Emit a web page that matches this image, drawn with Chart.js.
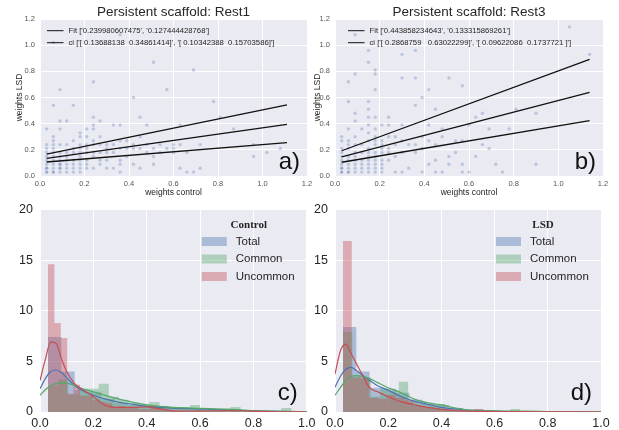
<!DOCTYPE html>
<html>
<head>
<meta charset="utf-8">
<script src="https://cdn.jsdelivr.net/npm/chart.js@4.4.0/dist/chart.umd.min.js"></script>
<style>
  body { margin: 0; background: #fff; }
  #wrap { position: relative; width: 619px; height: 430px; overflow: hidden; }
  #wrap canvas { position: absolute; }
</style>
</head>
<body>
<div id="wrap">
  <canvas id="rest1Chart" width="320" height="200" style="left:0;top:0"></canvas>
  <canvas id="rest3Chart" width="309" height="200" style="left:310px;top:0"></canvas>
  <canvas id="controlChart" width="320" height="235" style="left:0;top:195px"></canvas>
  <canvas id="lsdChart" width="309" height="235" style="left:310px;top:195px"></canvas>
</div>
<script>
// ---- scatter data (weights control, weights LSD) ----
const rest1Points = [
  [0.03,0.03],[0.03,0.03],[0.03,0.06],[0.03,0.06],[0.03,0.09],[0.03,0.12],[0.03,0.15],[0.03,0.18],[0.03,0.21],[0.03,0.24],[0.03,0.36],
  [0.06,0.03],[0.06,0.03],[0.06,0.06],[0.06,0.09],[0.06,0.12],[0.06,0.15],[0.06,0.18],[0.06,0.21],[0.06,0.24],[0.06,0.27],[0.06,0.30],[0.06,0.54],[0.06,1.02],
  [0.09,0.03],[0.09,0.06],[0.09,0.06],[0.09,0.09],[0.09,0.09],[0.09,0.12],[0.09,0.15],[0.09,0.18],[0.09,0.24],[0.09,0.36],[0.09,0.42],[0.09,0.66],
  [0.12,0.03],[0.12,0.06],[0.12,0.09],[0.12,0.12],[0.12,0.15],[0.12,0.18],[0.12,0.24],[0.12,0.42],
  [0.15,0.03],[0.15,0.06],[0.15,0.09],[0.15,0.12],[0.15,0.18],[0.15,0.21],[0.15,0.27],[0.15,0.54],
  [0.18,0.03],[0.18,0.06],[0.18,0.09],[0.18,0.12],[0.18,0.15],[0.18,0.18],[0.18,0.21],[0.18,0.24],[0.18,0.30],[0.18,0.33],
  [0.21,0.06],[0.21,0.09],[0.21,0.12],[0.21,0.18],[0.21,0.21],[0.21,0.24],[0.21,0.30],[0.21,0.36],
  [0.24,0.06],[0.24,0.15],[0.24,0.18],[0.24,0.24],[0.24,0.27],[0.24,0.36],[0.24,0.39],[0.24,0.45],[0.24,0.72],
  [0.27,0.09],[0.27,0.12],[0.27,0.18],[0.27,0.24],[0.27,0.30],[0.27,0.42],
  [0.30,0.06],[0.30,0.12],[0.30,0.18],[0.30,0.21],[0.30,0.24],
  [0.33,0.06],[0.33,0.18],[0.33,0.24],[0.33,0.39],
  [0.36,0.03],[0.36,0.09],[0.36,0.12],[0.36,0.21],[0.36,0.27],[0.36,0.39],[0.36,1.08],
  [0.39,0.15],[0.39,0.21],[0.39,0.27],
  [0.42,0.09],[0.42,0.21],[0.42,0.24],[0.42,0.60],
  [0.45,0.06],[0.45,0.21],[0.45,0.30],[0.45,0.45],
  [0.48,0.18],[0.48,0.24],[0.48,0.39],
  [0.51,0.09],[0.51,0.15],[0.51,0.21],[0.51,0.87],
  [0.54,0.18],[0.54,0.24],[0.57,0.21],[0.57,0.66],
  [0.60,0.18],[0.60,0.21],[0.60,0.24],[0.63,0.06],[0.63,0.24],[0.63,0.39],
  [0.66,0.03],[0.66,0.18],[0.69,0.03],[0.69,0.81],[0.72,0.06],[0.72,0.24],
  [0.78,0.57],[0.81,0.45],[0.87,0.36],[0.96,0.15],[0.96,0.24],[1.02,0.18],[1.08,0.21]
];
const rest3Points = [
  [0.03,0.03],[0.03,0.03],[0.03,0.06],[0.03,0.06],[0.03,0.09],[0.03,0.12],[0.03,0.15],[0.03,0.18],[0.03,0.21],[0.03,0.27],[0.03,0.30],
  [0.06,0.03],[0.06,0.03],[0.06,0.06],[0.06,0.09],[0.06,0.12],[0.06,0.15],[0.06,0.21],[0.06,0.24],[0.06,0.27],[0.06,0.36],[0.06,0.57],[0.06,0.72],
  [0.09,0.03],[0.09,0.06],[0.09,0.09],[0.09,0.12],[0.09,0.15],[0.09,0.18],[0.09,0.24],[0.09,0.30],[0.09,0.42],[0.09,0.48],[0.09,0.78],[0.09,1.08],
  [0.12,0.03],[0.12,0.06],[0.12,0.09],[0.12,0.12],[0.12,0.18],[0.12,0.24],[0.12,0.36],
  [0.15,0.03],[0.15,0.06],[0.15,0.09],[0.15,0.12],[0.15,0.15],[0.15,0.18],[0.15,0.21],[0.15,0.27],[0.15,0.33],[0.15,0.39],[0.15,0.45],[0.15,0.51],[0.15,0.57],[0.15,0.87],[0.15,0.96],
  [0.18,0.03],[0.18,0.06],[0.18,0.09],[0.18,0.12],[0.18,0.15],[0.18,0.18],[0.18,0.24],[0.18,0.27],[0.18,0.30],[0.18,0.36],[0.18,0.45],[0.18,0.66],[0.18,0.78],[0.18,0.81],
  [0.21,0.03],[0.21,0.06],[0.21,0.09],[0.21,0.12],[0.21,0.18],[0.21,0.21],[0.21,0.24],[0.21,0.27],[0.21,0.39],
  [0.24,0.12],[0.24,0.18],[0.24,0.21],[0.24,0.30],[0.24,0.39],[0.24,0.45],
  [0.27,0.03],[0.27,0.15],[0.27,0.24],[0.27,0.30],
  [0.30,0.03],[0.30,0.18],[0.30,0.27],[0.30,0.39],[0.30,0.75],[0.30,0.93],
  [0.33,0.06],[0.33,0.24],
  [0.36,0.18],[0.36,0.24],[0.36,0.54],[0.36,0.75],[0.36,0.96],
  [0.39,0.03],[0.39,0.21],[0.39,0.30],[0.39,0.60],
  [0.42,0.09],[0.42,0.27],[0.42,0.39],[0.42,0.66],
  [0.45,0.03],[0.45,0.12],[0.45,0.24],[0.45,0.51],
  [0.48,0.03],[0.48,0.30],[0.48,0.36],
  [0.51,0.09],[0.51,0.15],[0.51,0.75],[0.54,0.18],[0.54,0.27],
  [0.57,0.03],[0.57,0.09],[0.57,0.27],[0.57,0.69],[0.60,0.03],[0.60,0.39],
  [0.63,0.15],[0.63,0.45],[0.66,0.24],[0.66,0.48],[0.69,0.21],[0.69,0.36],
  [0.72,0.09],[0.75,0.03],[0.78,0.36],[0.81,0.51],[0.90,0.09],[0.90,0.48],
  [1.05,1.14],[1.14,0.93]
];

// fitted line and confidence band ends (x, then y at each end)
const rest1LineX = [0.03, 1.11];
const rest1Fit = [0.134, 0.394];
const rest1CiLow = [0.107, 0.255];
const rest1CiHigh = [0.167, 0.544];
const rest3LineX = [0.03, 1.14];
const rest3Fit = [0.147, 0.639];
const rest3CiLow = [0.105, 0.423];
const rest3CiHigh = [0.193, 0.892];

const rest1Legend = ["Fit ['0.239980607475', '0.127444428768']",
                     "ci ['[ 0.13688138  0.34861414]', '[ 0.10342388  0.15703586]']"];
const rest3Legend = ["Fit ['0.443858234643', '0.133315869261']",
                     "ci ['[ 0.2868759   0.63022299]', '[ 0.09622086  0.1737721 ]']"];

// ---- histogram data: [first bin edge, bin width] and densities ----
const seriesNames = ['Total', 'Common', 'Uncommon'];
const controlTotalBins = [0.03, 0.05];
const controlTotal = [7.4, 4.0, 2.2, 2.0, 1.3, 0.9, 0.7, 0.6, 0.6, 0.5, 0.4, 0.3, 0.3, 0.2, 0.2, 0.1, 0.1, 0.1, 0.1];
const controlCommonBins = [0.03, 0.038];
const controlCommon = [2.6, 3.2, 1.7, 2.3, 2.3, 2.8, 1.5, 1.2, 0.9, 0.8, 1.0, 0.6, 0.5, 0.5, 0.7, 0.4, 0.3, 0.3, 0.5, 0.2, 0.1, 0.1, 0.1, 0.4, 0.1];
const controlUncommonBins = [0.03, 0.024];
const controlUncommon = [14.6, 8.8, 7.3, 1.8, 2.7, 1.6, 1.6, 1.2, 1.0, 0.9, 0.5, 0.6, 0.5, 0.4, 0.3, 0.3, 0.6, 0.4, 0.2, 0.1, 0.1, 0.1, 0.1, 0.2, 0.1, 0.1, 0.1, 0.2, 0.2, 0.1];

const lsdTotalBins = [0.03, 0.05];
const lsdTotal = [8.4, 4.0, 2.4, 2.3, 1.9, 1.2, 0.8, 0.7, 0.4, 0.2, 0.15, 0.1, 0.1, 0.05, 0.05, 0.05, 0.05, 0.05];
const lsdCommonBins = [0.03, 0.035];
const lsdCommon = [7.9, 3.5, 3.4, 1.5, 2.3, 2.1, 3.0, 1.0, 0.8, 0.8, 0.8, 0.3, 0.2, 0.2, 0.3, 0.2, 0.2, 0.1, 0.3, 0.1, 0.1, 0.1, 0.05];
const lsdUncommonBins = [0.03, 0.033];
const lsdUncommon = [16.9, 3.4, 3.3, 1.4, 1.3, 1.7, 1.4, 1.2, 0.6, 0.5, 0.4, 0.3, 0.2, 0.2, 0.1, 0.3, 0.1, 0.1, 0.05, 0.05];

// density curves
const kdeX = [0, 0.02, 0.04, 0.06, 0.08, 0.1, 0.13, 0.16, 0.2, 0.25, 0.3, 0.35, 0.4, 0.45, 0.5, 0.6, 0.7, 0.8, 0.9, 1.0];
const controlTotalKde = [2.3, 3.3, 4.0, 4.15, 3.9, 3.4, 2.6, 2.1, 1.65, 1.25, 0.95, 0.75, 0.55, 0.45, 0.38, 0.3, 0.22, 0.12, 0.06, 0.03];
const controlCommonKde = [1.65, 2.2, 2.6, 2.8, 2.85, 2.85, 2.6, 2.3, 2.0, 1.6, 1.25, 0.95, 0.7, 0.55, 0.45, 0.36, 0.28, 0.13, 0.07, 0.03];
const controlUncommonKde = [3.1, 5.2, 6.9, 6.8, 5.3, 4.0, 2.8, 2.2, 1.5, 0.6, 0.45, 0.45, 0.5, 0.3, 0.12, 0.1, 0.15, 0.08, 0.02, 0.0];
const lsdTotalKde = [2.45, 3.5, 4.2, 4.4, 4.1, 3.7, 3.1, 2.6, 2.15, 1.5, 1.05, 0.75, 0.45, 0.3, 0.2, 0.1, 0.05, 0.03, 0.02, 0.01];
const lsdCommonKde = [1.65, 2.4, 3.1, 3.5, 3.6, 3.55, 3.3, 2.9, 2.4, 1.9, 1.25, 0.9, 0.7, 0.4, 0.2, 0.1, 0.08, 0.05, 0.02, 0.01];
const lsdUncommonKde = [3.75, 6.0, 6.7, 5.8, 4.8, 3.8, 2.4, 2.0, 1.5, 1.0, 0.7, 0.45, 0.26, 0.15, 0.08, 0.05, 0.03, 0.02, 0.01, 0.0];

const blue = '76, 114, 176', green = '85, 168, 104', red = '196, 78, 82';
const sans = "'Liberation Sans', Arial, sans-serif";

// seaborn-ish grey plot background
const plotBackground = {
  id: 'plotBackground',
  beforeDraw(chart) {
    const { ctx, chartArea: a } = chart;
    ctx.save();
    ctx.fillStyle = '#EAEAF2';
    ctx.fillRect(a.left, a.top, a.right - a.left, a.bottom - a.top);
    ctx.restore();
  }
};

// panel letter + legend drawn inside the plot area
const panelDecor = {
  id: 'panelDecor',
  afterDraw(chart, args, opts) {
    const { ctx, chartArea: a } = chart;
    ctx.save();
    ctx.fillStyle = '#111';
    ctx.font = opts.tagSize + 'px ' + sans;
    ctx.textAlign = 'right';
    ctx.textBaseline = 'alphabetic';
    ctx.fillText(opts.tag, a.right - opts.tagRight, a.bottom - opts.tagBottom);

    if (opts.lines) {
      ctx.font = '7.7px ' + sans;
      ctx.textAlign = 'left';
      ctx.textBaseline = 'middle';
      opts.lines.forEach((txt, i) => {
        const y = a.top + 11.7 + i * 12;
        ctx.strokeStyle = '#111';
        ctx.lineWidth = 1;
        ctx.beginPath();
        ctx.moveTo(a.left + opts.legendLeft, y);
        ctx.lineTo(a.left + opts.legendLeft + 16.5, y);
        ctx.stroke();
        ctx.fillStyle = '#262626';
        ctx.fillText(txt, a.left + opts.legendLeft + 21.5, y);
      });
    }
    if (opts.patches) {
      ctx.textBaseline = 'middle';
      ctx.textAlign = 'center';
      ctx.fillStyle = '#262626';
      ctx.font = 'bold 11px "Liberation Serif", serif';
      ctx.fillText(opts.heading, a.right - 58, a.top + 16);
      ctx.font = '11.5px ' + sans;
      ctx.textAlign = 'left';
      opts.patches.forEach((p, i) => {
        const y = a.top + 32 + i * 17.5;
        ctx.fillStyle = 'rgba(' + p.color + ', 0.4)';
        ctx.fillRect(a.right - 105, y - 4.5, 25, 9);
        ctx.fillStyle = '#262626';
        ctx.fillText(p.label, a.right - 71, y);
      });
    }
    ctx.restore();
  }
};

function axisBase(min, max, step, fontSize, color, pad, fmt) {
  return {
    type: 'linear', min: min, max: max,
    grid: { color: '#ffffff', lineWidth: 1, drawTicks: false },
    border: { display: false },
    ticks: { stepSize: step, padding: pad, color: color, font: { family: sans, size: fontSize }, callback: fmt }
  };
}

const oneDecimal = v => v.toFixed(1);

function scatterChart(id, title, points, lineX, fit, lo, hi, legend, opts) {
  const line = ys => ({
    data: lineX.map((x, i) => ({ x: x, y: ys[i] })),
    showLine: true, borderColor: '#111', borderWidth: 1.3, pointRadius: 0, fill: false
  });
  const xAxis = axisBase(0, 1.2, 0.2, 7.5, '#555', 3, oneDecimal);
  xAxis.title = { display: true, text: 'weights control', color: '#262626', font: { family: sans, size: 8.5 }, padding: { bottom: 2 } };
  xAxis.afterFit = s => { s.height = 24; };
  const yAxis = axisBase(0, 1.2, 0.2, 7.5, '#555', 5, oneDecimal);
  yAxis.title = { display: true, text: 'weights LSD', color: '#262626', font: { family: sans, size: 8.5 }, padding: { top: opts.yTitlePad } };
  yAxis.afterFit = s => { s.width = opts.yWidth; };

  new Chart(document.getElementById(id), {
    type: 'scatter',
    data: {
      datasets: [
        line(fit), line(lo), line(hi),
        {
          data: points.map(p => ({ x: p[0], y: p[1] })),
          backgroundColor: 'rgba(' + blue + ', 0.3)', borderWidth: 0, pointRadius: 1.7
        }
      ]
    },
    options: {
      responsive: false, animation: false,
      layout: { autoPadding: false, padding: { right: opts.padRight } },
      plugins: {
        legend: { display: false }, tooltip: { enabled: false },
        title: {
          display: true, text: title, fullSize: false, color: '#262626',
          font: { family: sans, size: 13.5, weight: 'normal', lineHeight: 1 },
          padding: { top: 5.5, bottom: 0 }
        },
        panelDecor: { tag: opts.tag, tagSize: 24, tagRight: 7, tagBottom: 7, lines: legend, legendLeft: opts.legendLeft }
      },
      scales: { x: xAxis, y: yAxis }
    },
    plugins: [plotBackground, panelDecor]
  });
}

// stepped outline of a histogram, built from bin start/width and heights
function histPoints(bins, heights) {
  const pts = [{ x: bins[0], y: 0 }];
  heights.forEach((h, i) => pts.push({ x: bins[0] + i * bins[1], y: h }));
  pts.push({ x: bins[0] + heights.length * bins[1], y: 0 });
  return pts;
}

function histChart(id, heading, hists, kdes, opts) {
  const colors = [blue, green, red];
  const kdeSets = kdes.map((k, i) => ({
    data: kdeX.map((x, j) => ({ x: x, y: k[j] })),
    borderColor: 'rgb(' + colors[i] + ')', borderWidth: 1.2, pointRadius: 0,
    cubicInterpolationMode: 'monotone', fill: false
  })).reverse();
  const histSets = hists.map((h, i) => ({
    data: histPoints(h[0], h[1]),
    stepped: true, borderWidth: 0, pointRadius: 0,
    backgroundColor: 'rgba(' + colors[i] + ', 0.4)', fill: 'origin'
  })).reverse();

  const xAxis = axisBase(0, 1.0, 0.2, 12.5, '#262626', 4.5, oneDecimal);
  xAxis.afterFit = s => { s.height = 18; };
  const yAxis = axisBase(0, 20, 5, 12.5, '#262626', 7, v => v);
  yAxis.afterFit = s => { s.width = opts.yWidth; };

  new Chart(document.getElementById(id), {
    type: 'line',
    data: { datasets: kdeSets.concat(histSets) },
    options: {
      responsive: false, animation: false,
      layout: { autoPadding: false, padding: { top: 11, right: opts.padRight } },
      plugins: {
        legend: { display: false }, tooltip: { enabled: false },
        panelDecor: {
          tag: opts.tag, tagSize: 24, tagRight: 9, tagBottom: 12, heading: heading,
          patches: seriesNames.map((n, i) => ({ label: n, color: colors[i] }))
        }
      },
      scales: { x: xAxis, y: yAxis }
    },
    plugins: [plotBackground, panelDecor]
  });
}

scatterChart('rest1Chart', 'Persistent scaffold: Rest1', rest1Points, rest1LineX, rest1Fit, rest1CiLow, rest1CiHigh,
  rest1Legend, { tag: 'a)', yWidth: 40, yTitlePad: 15, padRight: 13, legendLeft: 7 });
scatterChart('rest3Chart', 'Persistent scaffold: Rest3', rest3Points, rest3LineX, rest3Fit, rest3CiLow, rest3CiHigh,
  rest3Legend, { tag: 'b)', yWidth: 25, yTitlePad: 3, padRight: 16, legendLeft: 13 });

histChart('controlChart', 'Control',
  [[controlTotalBins, controlTotal], [controlCommonBins, controlCommon], [controlUncommonBins, controlUncommon]],
  [controlTotalKde, controlCommonKde, controlUncommonKde],
  { tag: 'c)', yWidth: 40, padRight: 13 });
histChart('lsdChart', 'LSD',
  [[lsdTotalBins, lsdTotal], [lsdCommonBins, lsdCommon], [lsdUncommonBins, lsdUncommon]],
  [lsdTotalKde, lsdCommonKde, lsdUncommonKde],
  { tag: 'd)', yWidth: 25, padRight: 18 });
</script>
</body>
</html>
